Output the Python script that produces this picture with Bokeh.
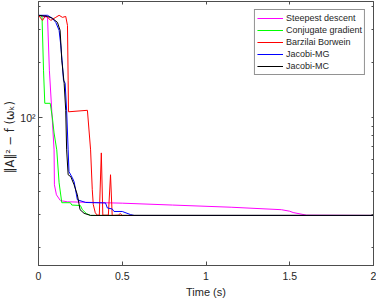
from bokeh.plotting import figure
from bokeh.models import Range1d, FixedTicker, NumeralTickFormatter, LogAxis, LinearAxis
from bokeh.embed import file_html
from bokeh.resources import INLINE

# ---- data ----
steep_t = [0, 0.054, 0.065, 0.093, 0.095, 0.107, 0.131, 0.173, 0.5, 0.8, 1.15, 1.45, 1.5, 1.52, 1.6, 2.0]
steep_v = [358, 349, 181, 67.3, 43.6, 38.5, 35.8, 35.3, 34.7, 33.9, 33.0, 32.0, 31.4, 30.9, 29.9, 29.8]

cg_t = [0, 0.021, 0.030, 0.0375, 0.070, 0.083, 0.093, 0.109, 0.123, 0.139, 0.19, 0.199, 0.25, 0.262, 0.286, 0.31, 2.0]
cg_v = [358, 353, 181, 120, 120, 100, 83, 67.3, 44.7, 34.9, 34.9, 33.9, 33.7, 32.0, 30.5, 29.8, 29.8]

bb_t = [0, 0.024, 0.043, 0.073, 0.103, 0.123, 0.143, 0.1625, 0.173, 0.177, 0.179, 0.292, 0.311,
        0.321, 0.327, 0.339, 0.351, 0.363, 0.375, 0.384, 0.417, 0.43, 0.44, 0.476, 0.488, 0.5, 2.0]
bb_v = [358, 336, 358, 336, 349, 358, 349, 353, 316, 160, 108, 110, 67.3,
        41.0, 34.1, 30.8, 29.9, 29.9, 64.8, 29.9, 29.9, 49.4, 29.8, 29.9, 30.5, 29.8, 29.8]

mg_t = [0, 0.054, 0.083, 0.103, 0.123, 0.133, 0.143, 0.149, 0.159, 0.168, 0.177, 0.182, 0.202,
        0.2125, 0.232, 0.282, 0.4, 0.411, 0.44, 0.451, 0.5, 0.55, 0.571, 2.0]
mg_v = [358, 358, 345, 328, 297, 247, 193, 160, 154, 110, 67.3, 51.3, 47.6,
        45.3, 36.2, 35.0, 34.8, 32.7, 32.3, 31.3, 31.3, 30.1, 29.8, 29.8]

mc_t = [0, 0.054, 0.083, 0.113, 0.129, 0.139, 0.153, 0.1625, 0.168, 0.177, 0.193, 0.2125, 0.232,
        0.248, 0.272, 0.311, 2.0]
mc_v = [358, 353, 345, 328, 297, 205, 154, 110, 67.3, 49.4, 48.2, 43.6, 38.5,
        32.0, 30.6, 29.8, 29.8]

series_names = ["Steepest descent", "Conjugate gradient", "Barzilai Borwein", "Jacobi-MG", "Jacobi-MC"]
series_colors = ["#ff00ff", "#00ff00", "#ff0000", "#0000ff", "#000000"]

x_ticks = [0, 0.5, 1, 1.5, 2]
y_major = [100]
y_minor = [20, 30, 40, 50, 60, 70, 80, 90, 200, 300, 400]
y_labels = {100: "10²"}

AX = "#4d4d4d"
TXT = "#262626"
FONT = "Liberation Sans"

p = figure(width=376, height=300, y_axis_type="log", output_backend="svg",
           toolbar_location=None, x_range=Range1d(0, 2), y_range=Range1d(16, 425),
           min_border_left=0, min_border_right=3, min_border_top=1, min_border_bottom=0)
p.title.visible = False
p.xgrid.visible = False
p.ygrid.visible = False
p.outline_line_color = AX

# bottom axis
xa = p.xaxis[0]
xa.ticker = FixedTicker(ticks=x_ticks, minor_ticks=[])
xa.formatter = NumeralTickFormatter(format="0.[0]")
xa.axis_label = "Time (s)"
# left axis
ya = p.yaxis[0]
ya.ticker = FixedTicker(ticks=y_major, minor_ticks=y_minor)
ya.major_label_overrides = y_labels
ya.axis_label = "‖A‖²  −  f (ωₖ)"

for ax in (xa, ya):
    ax.axis_line_color = AX
    ax.major_tick_line_color = AX
    ax.minor_tick_line_color = AX
    ax.major_tick_in = 4
    ax.major_tick_out = 0
    ax.minor_tick_in = 2
    ax.minor_tick_out = 0
    ax.major_label_text_font = FONT
    ax.major_label_text_font_size = "10.5px"
    ax.major_label_text_color = TXT
    ax.axis_label_text_font = FONT
    ax.axis_label_text_font_size = "11px"
    ax.axis_label_text_font_style = "normal"
    ax.axis_label_text_color = TXT
xa.major_label_standoff = 6
xa.axis_label_standoff = 3
ya.major_label_standoff = 3
ya.axis_label_standoff = 0
ya.axis_label_text_font = "DejaVu Sans"
ya.axis_label_text_font_size = "11.5px"

# mirrored ticks (no labels)
top = LinearAxis(ticker=FixedTicker(ticks=[], minor_ticks=x_ticks[1:-1]))
right = LogAxis(ticker=FixedTicker(ticks=[], minor_ticks=y_minor + y_major))
for ax in (top, right):
    ax.axis_line_color = AX
    ax.minor_tick_line_color = AX
    ax.minor_tick_in = 3
    ax.minor_tick_out = 0
    ax.major_tick_out = 0
    ax.major_tick_in = 0
    ax.major_label_text_font_size = "0px"
    ax.major_label_standoff = 0
    ax.axis_label_standoff = 0
right.minor_tick_in = 2
p.add_layout(top, "above")
p.add_layout(right, "right")

series = [(steep_t, steep_v), (cg_t, cg_v), (bb_t, bb_v), (mg_t, mg_v), (mc_t, mc_v)]
for (t, v), name, col in zip(series, series_names, series_colors):
    p.line(t, v, line_color=col, line_width=1, legend_label=name)

leg = p.legend[0]
leg.location = "top_right"
leg.margin = 8
leg.padding = 2
leg.spacing = 0
leg.glyph_height = 12
leg.label_height = 12
leg.glyph_width = 26
leg.label_standoff = 3
leg.label_text_font = FONT
leg.label_text_font_size = "9px"
leg.label_text_color = TXT
leg.border_line_color = TXT
leg.border_line_width = 1
leg.background_fill_color = "white"
leg.background_fill_alpha = 1

open("out.html", "w").write(file_html(p, INLINE))
